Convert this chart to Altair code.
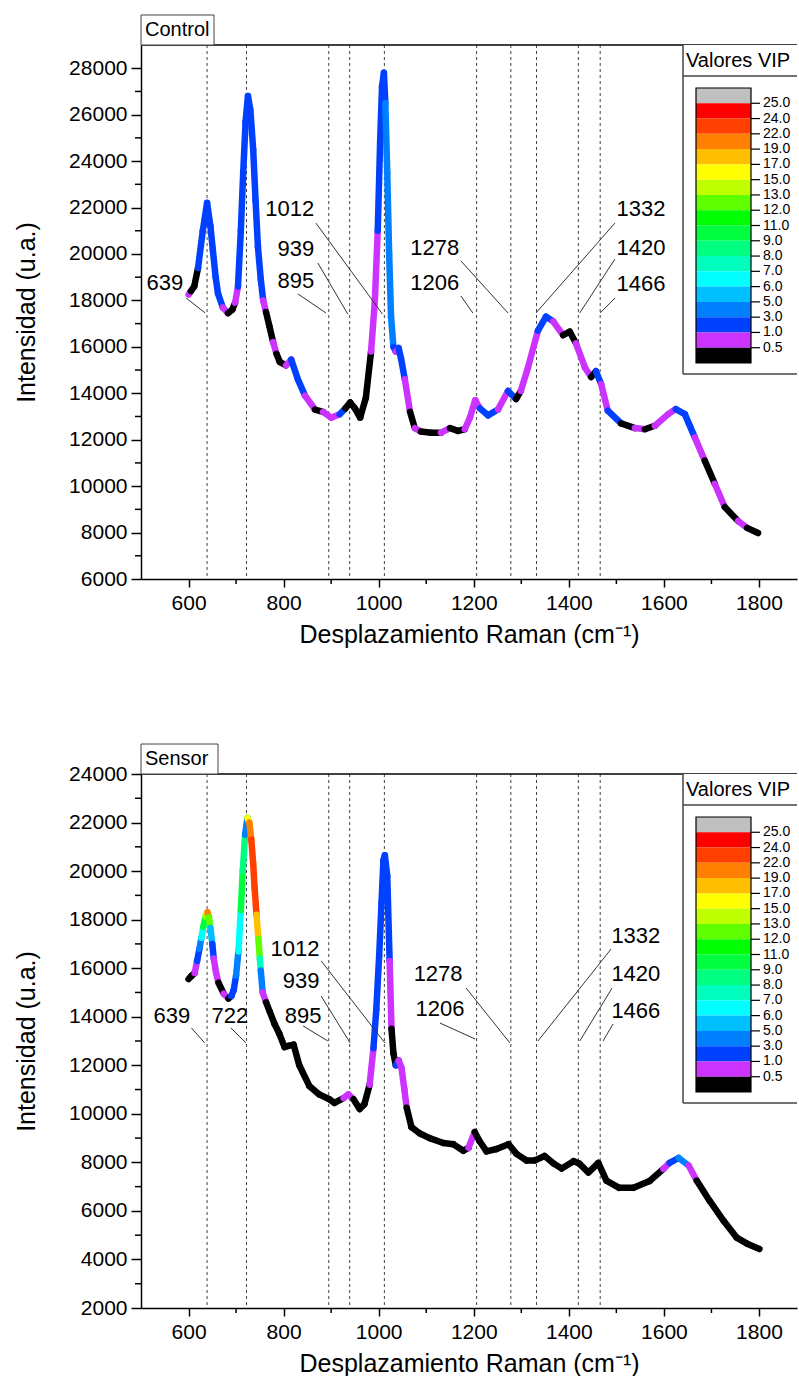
import altair as alt
import pandas as pd

# ---------------- Control spectrum ----------------
ctrl_x = [600, 605, 612, 620, 630, 639, 646, 651, 657, 662, 672, 683, 692, 698, 704,
          710, 715, 720, 725, 730, 736, 741, 746, 752, 757, 763, 770, 778, 785, 792,
          805, 816, 830, 845, 866, 883, 900, 918, 930, 940, 950, 961, 973, 984, 992,
          998, 1003, 1007, 1011, 1014, 1018, 1022, 1026, 1031, 1036, 1042, 1047, 1055, 1066, 1076,
          1089, 1110, 1131, 1150, 1167, 1181, 1192, 1203, 1213, 1230, 1251, 1272, 1289, 1299, 1314,
          1335, 1352, 1367, 1388, 1402, 1415, 1434, 1447, 1457, 1468, 1482, 1510, 1539, 1560, 1581,
          1609, 1625, 1644, 1665, 1686, 1707, 1728, 1756, 1775, 1798]
ctrl_y = [18250, 18400, 18600, 19400, 21000, 22200, 21200, 20200, 19000, 18300, 17700, 17450, 17600, 17900, 18600,
          21000, 23500, 25700, 26800, 26200, 24500, 22300, 20300, 18900, 18000, 17500, 16900, 16200, 15700, 15350,
          15200, 15450, 14600, 13900, 13300, 13200, 12950, 13100, 13350, 13600, 13350, 12950, 13800, 15800, 18000,
          21000, 24800, 27200, 27800, 26500, 23500, 20000, 17300, 16000, 15800, 15950, 15500, 14600, 13200, 12500,
          12350, 12300, 12300, 12500, 12380, 12450, 12950, 13700, 13350, 13050, 13300, 14100, 13750, 14100, 15100,
          16700, 17300, 17100, 16500, 16650, 16150, 15100, 14700, 14950, 14400, 13250, 12700, 12500, 12450, 12600,
          13100, 13320, 13100, 12100, 11100, 10100, 9100, 8500, 8200, 7980]
ctrl_vip = [0.6, 0.3, 0.3, 2, 2, 2, 2, 2, 2, 2, 0.7, 0.3, 0.3, 0.7, 2,
            2, 2, 2, 2, 2, 2, 2, 2, 2, 0.8, 0.3, 0.3, 0.8, 0.3, 0.3,
            0.8, 2, 2, 0.8, 0.3, 0.8, 0.8, 2, 0.3, 0.3, 0.3, 0.3, 0.3, 0.8, 0.8,
            2, 2, 2, 2, 4, 4, 4, 4, 2, 0.8, 2, 2, 0.8, 0.3, 0.8,
            0.3, 0.3, 0.8, 0.3, 0.3, 0.8, 0.8, 0.8, 2, 2, 0.8, 2, 0.3, 0.8, 0.8,
            2, 2, 0.8, 0.3, 0.3, 0.8, 0.8, 0.3, 2, 0.8, 2, 0.3, 0.8, 0.3, 0.8,
            0.8, 2, 2, 0.8, 0.3, 0.8, 0.3, 0.8, 0.3, 0.8]

# ---------------- Sensor spectrum ----------------
sens_x = [600, 606, 613, 618, 623, 627, 631, 636, 640, 643, 646, 650, 653, 658, 663,
          674, 684, 690, 695, 700, 705, 710, 714, 719, 724, 728, 732, 736, 739, 743,
          747, 750, 752, 756, 763, 771, 781, 791, 802, 810, 821, 833, 854, 875, 896,
          907, 926, 936, 947, 960, 970, 981, 989, 995, 1001, 1006, 1010, 1013, 1018, 1023,
          1027, 1031, 1036, 1042, 1048, 1054, 1059, 1069, 1086, 1107, 1136, 1157, 1178, 1189, 1202,
          1212, 1227, 1248, 1273, 1290, 1311, 1328, 1349, 1368, 1385, 1410, 1422, 1441, 1462, 1479,
          1506, 1536, 1570, 1599, 1612, 1631, 1652, 1669, 1696, 1726, 1753, 1775, 1801]
sens_y = [15550, 15680, 15800, 16300, 16800, 17250, 17700, 18150, 18300, 18100, 17650, 17000, 16400, 15800, 15400,
          14950, 14750, 14850, 15100, 15700, 16700, 18400, 20000, 21500, 22200, 22000, 21300, 20300, 19300, 18200,
          17200, 16400, 15900, 15000, 14600, 14200, 13700, 13300, 12750, 12800, 12850, 12000, 11150, 10800, 10600,
          10450, 10650, 10800, 10600, 10200, 10400, 11200, 12700, 14300, 16500, 18700, 20450, 20650, 19800, 16300,
          13500, 12500, 12000, 12200, 11900, 11000, 10250, 9450, 9200, 9000, 8800, 8750, 8480, 8600, 9250,
          8880, 8450, 8550, 8750, 8350, 8080, 8080, 8260, 7950, 7750, 8050, 7950, 7580, 7980, 7250,
          6950, 6950, 7230, 7730, 7980, 8180, 7870, 7250, 6420, 5580, 4900, 4650, 4430]
sens_vip = [0.3, 0.3, 0.8, 2, 4, 6.5, 10, 14, 20, 12, 5.5, 2, 0.8, 0.8, 0.3,
            0.8, 0.3, 2, 2, 4, 6.5, 10, 8.5, 4, 16, 20, 23, 23, 23, 18,
            12, 7.5, 4, 0.8, 0.3, 0.3, 0.3, 0.3, 0.3, 0.3, 0.3, 0.3, 0.3, 0.3, 0.3,
            0.3, 0.8, 0.8, 0.3, 0.3, 0.3, 0.8, 2, 2, 2, 2, 2, 2, 2, 0.8,
            0.3, 0.3, 2, 0.8, 0.8, 0.8, 0.3, 0.3, 0.3, 0.3, 0.3, 0.3, 0.3, 0.8, 0.3,
            0.3, 0.3, 0.3, 0.3, 0.3, 0.3, 0.3, 0.3, 0.3, 0.3, 0.3, 0.3, 0.3, 0.3, 0.3,
            0.3, 0.3, 0.3, 0.8, 2, 4, 0.8, 0.3, 0.3, 0.3, 0.3, 0.3, 0.3]

peaks = [639, 722, 895, 939, 1012, 1206, 1278, 1332, 1420, 1466]

# ---------------- annotations ----------------
ctrl_ann_label = ["639", "895", "939", "1012", "1206", "1278", "1332", "1420", "1466"]
ctrl_ann_tx = [550, 826, 826, 813, 1118, 1118, 1552, 1552, 1552]
ctrl_ann_ty = [18750, 18830, 20210, 21940, 18750, 20260, 21940, 20260, 18710]
ctrl_ann_x1 = [595, 830, 872, 868, 1173, 1173, 1497, 1497, 1497]
ctrl_ann_y1 = [18100, 18280, 19610, 21330, 18190, 19700, 21330, 19780, 18100]
ctrl_ann_x2 = [635, 889, 935, 1008, 1198, 1272, 1331, 1423, 1466]
ctrl_ann_y2 = [17460, 17460, 17410, 17410, 17460, 17460, 17460, 17460, 17460]

sens_ann_label = ["639", "722", "895", "939", "1012", "1206", "1278", "1332", "1420", "1466"]
sens_ann_tx = [565, 687, 841, 837, 824, 1129, 1125, 1541, 1541, 1541]
sens_ann_ty = [14030, 14030, 14030, 15470, 16790, 14320, 15760, 17330, 15760, 14240]
sens_ann_x1 = [606, 689, 841, 879, 879, 1129, 1184, 1489, 1491, 1493]
sens_ann_y1 = [13540, 13540, 13620, 14850, 16300, 13740, 15180, 16790, 15180, 13700]
sens_ann_x2 = [634, 721, 893, 940, 1013, 1203, 1276, 1335, 1423, 1472]
sens_ann_y2 = [12920, 12920, 13000, 12920, 12920, 13080, 12920, 13000, 13000, 13000]

# ---------------- axes ticks ----------------
x_major = [600, 800, 1000, 1200, 1400, 1600, 1800]
x_minor = [700, 900, 1100, 1300, 1500, 1700]
ctrl_y_major = [6000, 8000, 10000, 12000, 14000, 16000, 18000, 20000, 22000, 24000, 26000, 28000]
ctrl_y_minor = [7000, 9000, 11000, 13000, 15000, 17000, 19000, 21000, 23000, 25000, 27000]
sens_y_major = [2000, 4000, 6000, 8000, 10000, 12000, 14000, 16000, 18000, 20000, 22000, 24000]
sens_y_minor = [3000, 5000, 7000, 9000, 11000, 13000, 15000, 17000, 19000, 21000, 23000]

# ---------------- VIP colour scale ----------------
vip_thresholds = [0.5, 1, 3, 5, 6, 7, 8, 9, 11, 12, 13, 15, 17, 19, 22, 24, 25]
vip_band_colors = ["#c0c0c0", "#ff0000", "#ff4000", "#ff8000", "#ffbf00", "#ffff00", "#bfff00",
                   "#60ff00", "#00ff00", "#00ff40", "#00ff80", "#00ffbf", "#00ffff", "#00bfff",
                   "#0080ff", "#0040ff", "#cc33ff", "#000000"]
vip_labels = ["25.0", "24.0", "22.0", "19.0", "17.0", "15.0", "13.0", "12.0", "11.0",
              "9.0", "8.0", "7.0", "6.0", "5.0", "3.0", "1.0", "0.5"]

W = 656
H = 534
FONT = "Liberation Sans"


def panel(tag, tagw, xs, ys, vips, ydom, ymajor, yminor, ann):
    xsc = alt.Scale(domain=[500, 1880], nice=False, zero=False)
    ysc = alt.Scale(domain=ydom, nice=False, zero=False)
    xax = alt.Axis(values=x_major, format="d", title="Desplazamiento Raman (cm⁻¹)", tickSize=8,
                   labelPadding=5, titleY=55, titleBaseline="middle", labelFlush=False,
                   labelOverlap=False, grid=False)
    yax = alt.Axis(values=ymajor, format="d", title="Intensidad (u.a.)", tickSize=10, labelPadding=4,
                   titleX=-115, titleBaseline="middle", labelFlush=False,
                   labelOverlap=False, grid=False)

    def X(f):
        return alt.X(f, type="quantitative", scale=xsc, axis=xax)

    def Y(f):
        return alt.Y(f, type="quantitative", scale=ysc, axis=yax)

    one = pd.DataFrame({"a": [0]})
    seg = pd.DataFrame({"x": xs[:-1], "y": ys[:-1], "xe": xs[1:], "ye": ys[1:], "vip": vips[:-1]})
    ann_df = pd.DataFrame(dict(zip(["label", "tx", "ty", "x1", "y1", "x2", "y2"], ann)))

    dashed = alt.Chart(pd.DataFrame({"p": peaks})).mark_rule(
        color="#444444", strokeWidth=1, strokeDash=[3, 3]).encode(x=X("p"))
    xminor = alt.Chart(pd.DataFrame({"m": x_minor})).mark_rule(
        color="black", strokeWidth=1.5).encode(x=X("m"), y=alt.value(H), y2=alt.value(H + 5))
    yminor_l = alt.Chart(pd.DataFrame({"m": yminor})).mark_rule(
        color="black", strokeWidth=1.5).encode(y=Y("m"), x=alt.value(0), x2=alt.value(-6))
    topb = alt.Chart(one).mark_rule(color="black", strokeWidth=1.5).encode(
        x=alt.value(0), x2=alt.value(W), y=alt.value(0))
    curve = alt.Chart(seg).mark_rule(strokeWidth=6.5, strokeCap="round").encode(
        x=X("x"), y=Y("y"), x2="xe", y2="ye",
        color=alt.Color("vip:Q", scale=alt.Scale(type="threshold", domain=vip_thresholds,
                                                 range=vip_band_colors[::-1]), legend=None))
    ann_lines = alt.Chart(ann_df).mark_rule(color="#333333", strokeWidth=1).encode(
        x=X("x1"), y=Y("y1"), x2="x2", y2="y2")
    ann_text = alt.Chart(ann_df).mark_text(fontSize=22, color="black", font=FONT).encode(
        x=X("tx"), y=Y("ty"), text="label:N")
    tagbox = alt.Chart(one).mark_rect(fill="white", stroke="#444444", strokeWidth=1).encode(
        x=alt.value(0), x2=alt.value(tagw), y=alt.value(-30), y2=alt.value(0))
    tagtext = alt.Chart(one).mark_text(align="left", baseline="middle", fontSize=20,
                                       font=FONT, color="black").encode(
        x=alt.value(4), y=alt.value(-15), text=alt.value(tag))

    main = alt.layer(dashed, xminor, yminor_l, topb, curve, ann_lines, ann_text, tagbox, tagtext)

    # ---- VIP legend ----
    lsc = alt.Scale(domain=[0, 18], range=[43, 318], nice=False, zero=False)
    bands = pd.DataFrame({"i0": list(range(18)), "i1": list(range(1, 19)), "c": vip_band_colors})
    ticks = pd.DataFrame({"i": list(range(1, 18)), "lab": vip_labels})
    box_bg = alt.Chart(one).mark_rect(fill="white").encode(
        x=alt.value(542), x2=alt.value(W), y=alt.value(0), y2=alt.value(329))
    box_left = alt.Chart(one).mark_rule(color="#444444", strokeWidth=1.5).encode(
        x=alt.value(542), y=alt.value(0), y2=alt.value(329))
    box_bottom = alt.Chart(one).mark_rule(color="#444444", strokeWidth=1.5).encode(
        x=alt.value(542), x2=alt.value(W), y=alt.value(329))
    box_sep = alt.Chart(one).mark_rule(color="#444444", strokeWidth=1.5).encode(
        x=alt.value(542), x2=alt.value(W), y=alt.value(31))
    box_title = alt.Chart(one).mark_text(align="left", baseline="middle", fontSize=20,
                                         font=FONT, color="black").encode(
        x=alt.value(545), y=alt.value(16), text=alt.value("Valores VIP"))
    band_rects = alt.Chart(bands).mark_rect().encode(
        x=alt.value(555), x2=alt.value(610),
        y=alt.Y("i0:Q", scale=lsc, axis=None), y2="i1",
        color=alt.Color("c:N", scale=None))
    band_outline = alt.Chart(pd.DataFrame({"a": [0], "b": [18]})).mark_rect(
        fillOpacity=0, stroke="black", strokeWidth=1.2).encode(
        x=alt.value(555), x2=alt.value(610), y=alt.Y("a:Q", scale=lsc, axis=None), y2="b")
    tick_rules = alt.Chart(ticks).mark_rule(color="black", strokeWidth=1.2).encode(
        x=alt.value(610), x2=alt.value(619), y=alt.Y("i:Q", scale=lsc, axis=None))
    tick_labels = alt.Chart(ticks).mark_text(align="left", baseline="middle", fontSize=14,
                                             font=FONT, color="black").encode(
        x=alt.value(622), y=alt.Y("i:Q", scale=lsc, axis=None), text="lab:N")
    legend = alt.layer(box_bg, box_left, box_bottom, box_sep, box_title,
                       band_rects, band_outline, tick_rules, tick_labels)

    return alt.layer(main, legend).resolve_scale(y="independent").properties(width=W, height=H)


ctrl_ann = [ctrl_ann_label, ctrl_ann_tx, ctrl_ann_ty, ctrl_ann_x1, ctrl_ann_y1, ctrl_ann_x2, ctrl_ann_y2]
sens_ann = [sens_ann_label, sens_ann_tx, sens_ann_ty, sens_ann_x1, sens_ann_y1, sens_ann_x2, sens_ann_y2]

top = panel("Control", 73, ctrl_x, ctrl_y, ctrl_vip, [6000, 29000], ctrl_y_major, ctrl_y_minor, ctrl_ann)
bottom = panel("Sensor", 77, sens_x, sens_y, sens_vip, [2000, 24000], sens_y_major, sens_y_minor, sens_ann)

chart = alt.vconcat(top, bottom, spacing=96).properties(
    padding={"left": 14, "top": 14, "right": 0, "bottom": 0}
).configure(font=FONT).configure_view(stroke=None).configure_axis(
    labelFont=FONT, titleFont=FONT, labelFontSize=21, titleFontSize=25,
    titleFontWeight="normal", labelColor="black", titleColor="black",
    domainColor="black", tickColor="black", domainWidth=1.5, tickWidth=1.5)

chart.save("out.html", embed_options={"renderer": "svg", "actions": False})
